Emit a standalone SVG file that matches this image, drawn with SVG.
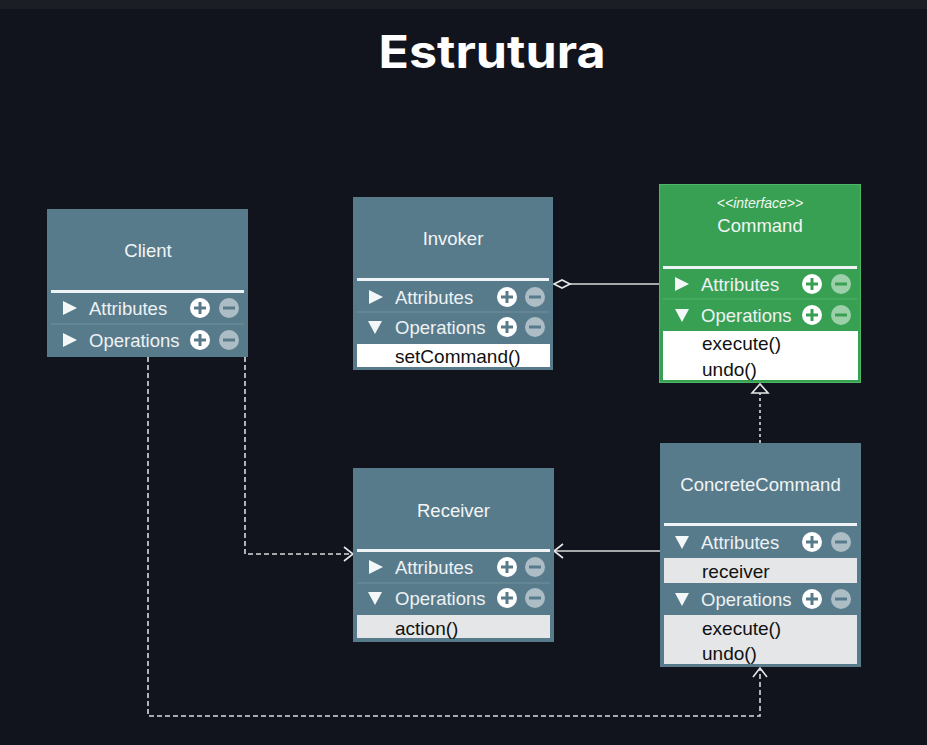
<svg xmlns="http://www.w3.org/2000/svg" xmlns:xlink="http://www.w3.org/1999/xlink" width="927" height="745" viewBox="0 0 927 745">
<style>
.slate{fill:#587b8b}
.green{fill:#38a053;stroke:#4db766;stroke-width:1}
.sep{fill:#eef3f5}
.div{stroke:#6e909e;stroke-width:1}
.gdiv{stroke:#52b36a;stroke-width:1}
.title{font-family:"Liberation Sans",Arial,sans-serif;font-size:18.5px;fill:#f2f5f6;text-anchor:middle}
.lbl{font-family:"Liberation Sans",Arial,sans-serif;font-size:18.5px;fill:#eef2f4}
.item{font-family:"Liberation Sans",Arial,sans-serif;font-size:19px;fill:#111}
.ster{font-family:"Liberation Sans",Arial,sans-serif;font-size:14px;font-style:italic;fill:#eef7ef;text-anchor:middle}
.rowW{fill:#ffffff}
.rowG{fill:#e4e6e7}
.conn{fill:none;stroke:#d9dadc;stroke-width:1.6}
.dash{stroke-dasharray:5 3}
.dot{stroke-dasharray:3 3}
.mk{fill:#12141d;stroke:#e6e7e9;stroke-width:1.6}
.ink{color:#587b8b}
.gink{color:#38a053}
</style>
<defs>
<symbol id="triR" viewBox="0 0 14 14" width="14" height="14" overflow="visible"><polygon points="0,0 14,7 0,14" fill="#f4f7f8"/></symbol>
<symbol id="triD" viewBox="0 0 14 14" width="14" height="14" overflow="visible"><polygon points="0,1 14,1 7,14" fill="#f4f7f8"/></symbol>
<symbol id="plus" viewBox="-10 -10 20 20" width="20" height="20" overflow="visible"><circle r="10" fill="#ffffff"/><path d="M-6,0H6M0,-6V6" stroke="currentColor" stroke-width="3"/></symbol>
<symbol id="minus" viewBox="-10 -10 20 20" width="20" height="20" overflow="visible"><circle r="10" fill="#ffffff" fill-opacity="0.5"/><path d="M-6,0H6" stroke="currentColor" stroke-width="3"/></symbol>
<marker id="arrow" markerUnits="userSpaceOnUse" markerWidth="12" markerHeight="18" refX="10" refY="8" orient="auto" overflow="visible"><path d="M1,1 L10,8 L1,15" fill="none" stroke="#e6e7e9" stroke-width="1.6"/></marker>
<marker id="tri" markerUnits="userSpaceOnUse" markerWidth="12" markerHeight="18" refX="9" refY="8" orient="auto" overflow="visible"><path class="mk" d="M0,0 L9,8 L0,16 Z"/></marker>
<marker id="diamond" markerUnits="userSpaceOnUse" markerWidth="18" markerHeight="10" refX="16" refY="4.5" orient="auto" overflow="visible"><path class="mk" d="M0,4.5 L8,0.5 L16,4.5 L8,8.5 Z"/></marker>
</defs>
<rect width="927" height="745" fill="#12141d"/>
<rect width="927" height="9" fill="#1c1e26"/>
<text x="492" y="68" font-family="Inter,'Liberation Sans',sans-serif" font-weight="700" font-size="45" fill="#ffffff" text-anchor="middle" textLength="227" lengthAdjust="spacingAndGlyphs">Estrutura</text>

<g id="connectors">
<path class="conn" d="M659,284 H554" marker-end="url(#diamond)"/>
<path class="conn dot" d="M760,443 V384" marker-end="url(#tri)"/>
<path class="conn" d="M660,551 H554" marker-end="url(#arrow)"/>
<path class="conn dash" d="M245,357 V554 H353" marker-end="url(#arrow)"/>
<path class="conn dash" d="M148,357 V716 H760 V668" marker-end="url(#arrow)"/>
</g>

<g id="client" class="ink">
<rect class="slate" x="47" y="209" width="201" height="148"/>
<text class="title" x="148" y="257">Client</text>
<rect class="sep" x="51" y="290" width="193" height="3"/>
<use href="#triR" x="63" y="301"/>
<text class="lbl" x="89" y="315">Attributes</text>
<use href="#plus" x="190" y="298"/>
<use href="#minus" x="219" y="298"/>
<line class="div" x1="51" y1="324" x2="244" y2="324"/>
<use href="#triR" x="63" y="333"/>
<text class="lbl" x="89" y="347">Operations</text>
<use href="#plus" x="190" y="330"/>
<use href="#minus" x="219" y="330"/>
</g>

<g id="invoker" class="ink">
<rect class="slate" x="353" y="197" width="200" height="173"/>
<text class="title" x="453" y="245">Invoker</text>
<rect class="sep" x="357" y="278" width="192" height="3"/>
<use href="#triR" x="369" y="290"/>
<text class="lbl" x="395" y="303.5">Attributes</text>
<use href="#plus" x="497" y="287"/>
<use href="#minus" x="525" y="287"/>
<line class="div" x1="357" y1="312" x2="549" y2="312"/>
<use href="#triD" x="368" y="320"/>
<text class="lbl" x="395" y="334">Operations</text>
<use href="#plus" x="497" y="317"/>
<use href="#minus" x="525" y="317"/>
<rect class="rowW" x="357" y="344" width="193" height="23"/>
<text class="item" x="395" y="362.5">setCommand()</text>
</g>

<g id="command" class="gink">
<rect class="green" x="659.5" y="184.5" width="201" height="198"/>
<text class="ster" x="760" y="208">&lt;&lt;interface&gt;&gt;</text>
<text class="title" x="760" y="232">Command</text>
<rect class="sep" x="663" y="266" width="194" height="3"/>
<use href="#triR" x="675" y="277"/>
<text class="lbl" x="701" y="290.5">Attributes</text>
<use href="#plus" x="802" y="274"/>
<use href="#minus" x="831" y="274"/>
<line class="gdiv" x1="663" y1="299" x2="857" y2="299"/>
<use href="#triD" x="675" y="308"/>
<text class="lbl" x="701" y="321.5">Operations</text>
<use href="#plus" x="802" y="305"/>
<use href="#minus" x="831" y="305"/>
<rect class="rowW" x="663" y="331" width="195" height="49"/>
<text class="item" x="702" y="350">execute()</text>
<text class="item" x="702" y="375.5">undo()</text>
</g>

<g id="receiver" class="ink">
<rect class="slate" x="353" y="468" width="201" height="174"/>
<text class="title" x="453.5" y="517">Receiver</text>
<rect class="sep" x="357" y="549" width="193" height="3"/>
<use href="#triR" x="369" y="560"/>
<text class="lbl" x="395" y="573.5">Attributes</text>
<use href="#plus" x="497" y="557"/>
<use href="#minus" x="525" y="557"/>
<line class="div" x1="357" y1="583" x2="550" y2="583"/>
<use href="#triD" x="368" y="591"/>
<text class="lbl" x="395" y="604.5">Operations</text>
<use href="#plus" x="497" y="588"/>
<use href="#minus" x="525" y="588"/>
<rect class="rowG" x="357" y="615" width="193" height="23"/>
<text class="item" x="395" y="634.5">action()</text>
</g>

<g id="concreteCommand" class="ink">
<rect class="slate" x="660" y="443" width="201" height="224"/>
<text class="title" x="760.5" y="491">ConcreteCommand</text>
<rect class="sep" x="664" y="523" width="193" height="3"/>
<use href="#triD" x="675" y="535"/>
<text class="lbl" x="701" y="548.5">Attributes</text>
<use href="#plus" x="802" y="532"/>
<use href="#minus" x="831" y="532"/>
<rect class="rowG" x="664" y="558" width="193" height="25"/>
<text class="item" x="702" y="578">receiver</text>
<use href="#triD" x="675" y="592"/>
<text class="lbl" x="701" y="605.5">Operations</text>
<use href="#plus" x="802" y="589"/>
<use href="#minus" x="831" y="589"/>
<rect class="rowG" x="664" y="615" width="193" height="49"/>
<text class="item" x="702" y="635">execute()</text>
<text class="item" x="702" y="659.5">undo()</text>
</g>
</svg>
